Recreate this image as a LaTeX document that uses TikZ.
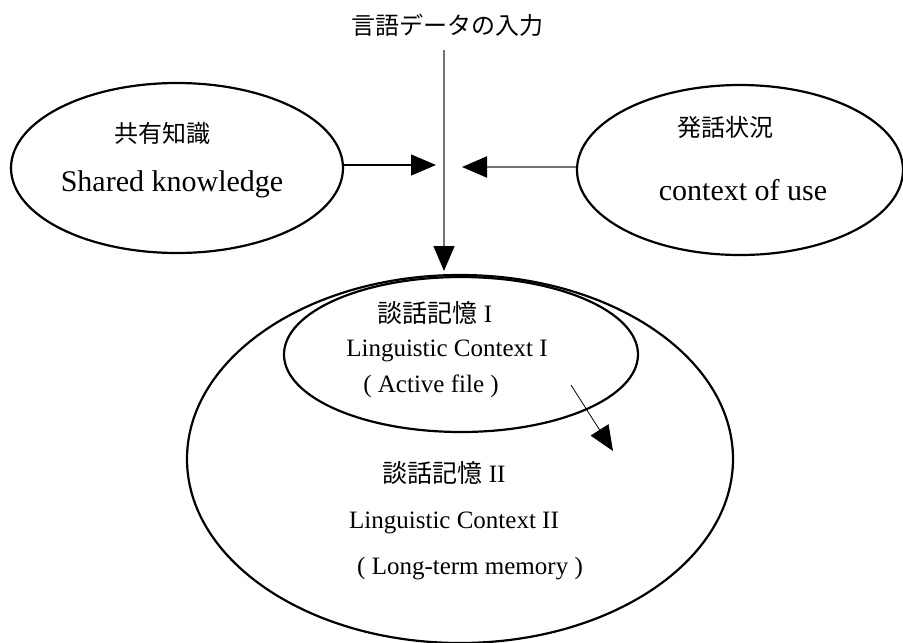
\documentclass[tikz,border=0pt]{standalone}
\usepackage{fontspec}
\setmainfont{Liberation Serif}
\newfontfamily\jp{Noto Sans CJK JP}
\usetikzlibrary{shapes.geometric,arrows.meta}
\tikzset{
  oval/.style={ellipse,draw=black,line width=2.2pt,inner sep=0pt},
  jtext/.style={font=\jp\fontsize{24}{28}\selectfont,inner sep=0pt},
  etext/.style={font=\fontsize{30}{34}\selectfont,inner sep=0pt},
  stext/.style={font=\fontsize{25}{29}\selectfont,inner sep=0pt},
  mixtext/.style={font=\fontsize{25}{29}\selectfont,inner sep=0pt},
  tip/.style={-{Triangle[length=25pt,width=21pt,color=black]}},
}
\begin{document}
\begin{tikzpicture}[x=1pt,y=-1pt]
\useasboundingbox[fill=white] (0,0) rectangle (903,643);
% ellipses
\node[oval,minimum width=332pt,minimum height=170pt] (shared) at (177,168) {};
\node[oval,minimum width=326pt,minimum height=170pt] (use) at (740,170) {};
\node[oval,minimum width=546pt,minimum height=368pt] (outer) at (460,459) {};
\node[oval,minimum width=354pt,minimum height=155pt] (inner) at (461,354.5) {};
% texts
\node[jtext] (title) at (447,25) {言語データの入力};
\node[jtext] (t1) at (162,133) {共有知識};
\node[etext] (t2) at (172,184) {Shared knowledge};
\node[jtext] (t3) at (725,127) {発話状況};
\node[etext] (t4) at (743,190) {context of use};
\node[mixtext] (t5) at (435,313) {{\jp 談話記憶} I};
\node[stext] (t6) at (447,351) {Linguistic Context I};
\node[stext] (t7) at (431,386) {( Active file )};
\node[mixtext] (t8) at (444,473) {{\jp 談話記憶} II};
\node[stext] (t9) at (454,523) {Linguistic Context II};
\node[stext] (t10) at (470,569) {( Long-term memory )};
% connectors
\coordinate (vtop) at (444,50);
\coordinate (vtip) at (444,271);
\coordinate (ltip) at (436,165);
\coordinate (rtip) at (462,167);
\coordinate (dstart) at (571,385);
\coordinate (dtip) at (613,451);
\draw[tip,draw=black!55,line width=1.3pt] (vtop) -- (vtip);
\draw[tip,draw=black,line width=1.3pt] (shared.east |- ltip) -- (ltip);
\draw[tip,draw=black!55,line width=2pt] (use.west |- rtip) -- (rtip);
\draw[tip,draw=black,line width=0.8pt] (dstart) -- (dtip);
\end{tikzpicture}
\end{document}
